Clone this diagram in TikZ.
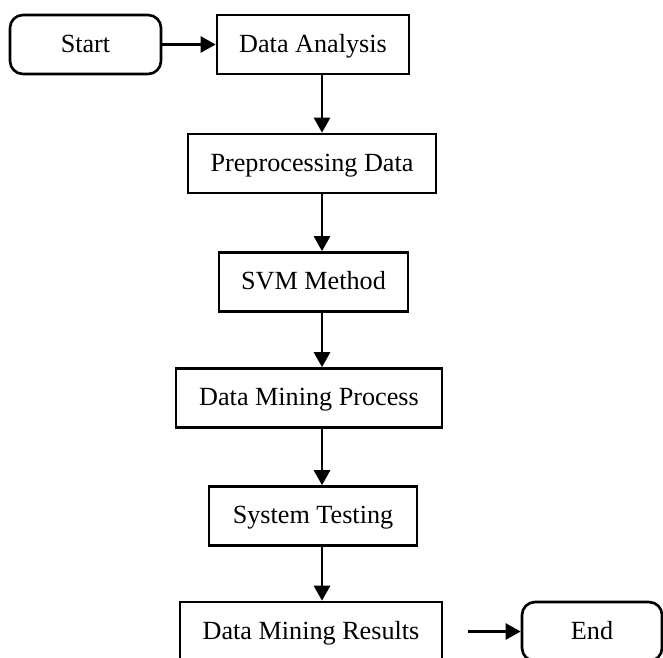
\documentclass[tikz,border=0pt]{standalone}
\usepackage{fontspec}
\setmainfont{Liberation Serif}
\usetikzlibrary{arrows.meta,calc}

\begin{document}
\begin{tikzpicture}[
        box/.style={draw, line width=1.5pt, inner sep=0pt, minimum height=1.18cm, text height=0.9em, text depth=0pt, font=\fontsize{14.9}{18}\selectfont},
        term/.style={box, rounded corners=0.26cm},
        arr/.style={line width=1.5pt, -{Triangle[length=0.3cm,width=0.32cm]}}
        ]
        \useasboundingbox (0,0) rectangle (13.26,-13.14);
        \clip (0,0) rectangle (13.26,-13.14);

        \node[term, minimum width=3.02cm] (start) at (1.71,-0.89) {Start};
        \node[box, minimum width=3.84cm] (da) at (6.26,-0.89) {Data Analysis};
        \node[box, minimum width=4.96cm] (pp) at (6.24,-3.27) {Preprocessing Data};
        \node[box, minimum width=3.78cm] (svm) at (6.27,-5.64) {SVM Method};
        \node[box, minimum width=5.32cm] (dmp) at (6.18,-7.96) {Data Mining Process};
        \node[box, minimum width=4.16cm] (st) at (6.26,-10.32) {System Testing};
        \node[box, minimum width=5.24cm] (dmr) at (6.22,-12.63) {Data Mining Results};
        \node[term, minimum width=2.8cm] (end) at (11.84,-12.63) {End};

        \coordinate (col) at (6.44,0);
        \coordinate (gap) at (9.36,-12.63);

        \draw[arr] (start) -- (da);
        \foreach \a/\b in {da/pp,pp/svm,svm/dmp,dmp/st,st/dmr}{
                \draw[arr] (\a.south -| col) -- (\b.north -| col);
        }
        \draw[arr] (gap) -- (end);
\end{tikzpicture}
\end{document}
